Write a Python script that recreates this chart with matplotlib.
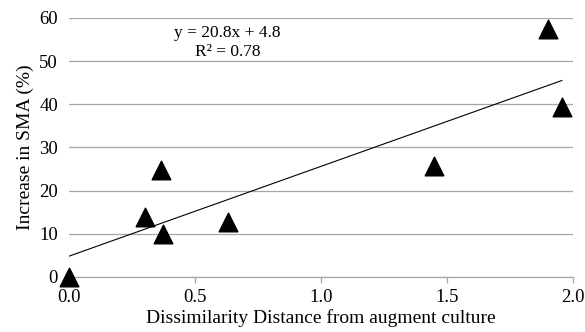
import matplotlib
matplotlib.use('Agg')
import matplotlib.pyplot as plt
import numpy as np

# data
distance = [0.0, 0.30, 0.364, 0.375, 0.63, 1.45, 1.90, 1.957]
increase = [0.0, 13.9, 24.8, 10.0, 12.7, 25.7, 57.4, 39.4]
slope = 20.8
intercept = 4.8
r2 = 0.78

plt.rcParams['font.family'] = ['Liberation Serif', 'DejaVu Serif']

fig = plt.figure(figsize=(5.85, 3.32), dpi=100)
ax = fig.add_axes([0.118, 0.166, 0.861, 0.780])

ax.set_xlim(0, 2.0)
ax.set_ylim(0, 60)
ax.set_xticks(np.arange(0, 2.01, 0.5))
ax.set_xticklabels(['%.1f' % v for v in np.arange(0, 2.01, 0.5)])
ax.set_yticks(range(0, 61, 10))

ax.yaxis.grid(True, color='#a6a6a6', linewidth=0.9)
ax.set_axisbelow(True)
for s in ['top', 'right', 'left']:
    ax.spines[s].set_visible(False)
ax.spines['bottom'].set_color('#a6a6a6')
ax.spines['bottom'].set_linewidth(0.9)
ax.tick_params(axis='x', colors='#a6a6a6', length=4, width=0.9, labelcolor='black', labelsize=13.5, pad=5)
ax.tick_params(axis='y', length=0, labelsize=13.5, pad=8)

# trend line
xs = np.array([min(distance), max(distance)])
ax.plot(xs, slope * xs + intercept, color='black', linewidth=0.8, zorder=2)

ax.scatter(distance, increase, marker='^', s=180, color='black', zorder=3, clip_on=False)

ax.text(0.63, 54.3, 'y = 20.8x + 4.8\nR² = 0.78', ha='center', va='center', fontsize=12.5, linespacing=1.25)

ax.set_xlabel('Dissimilarity Distance from augment culture', fontsize=14, labelpad=2)
ax.set_ylabel('Increase in SMA (%)', fontsize=14, labelpad=4)

fig.savefig('out.png', dpi=100)
